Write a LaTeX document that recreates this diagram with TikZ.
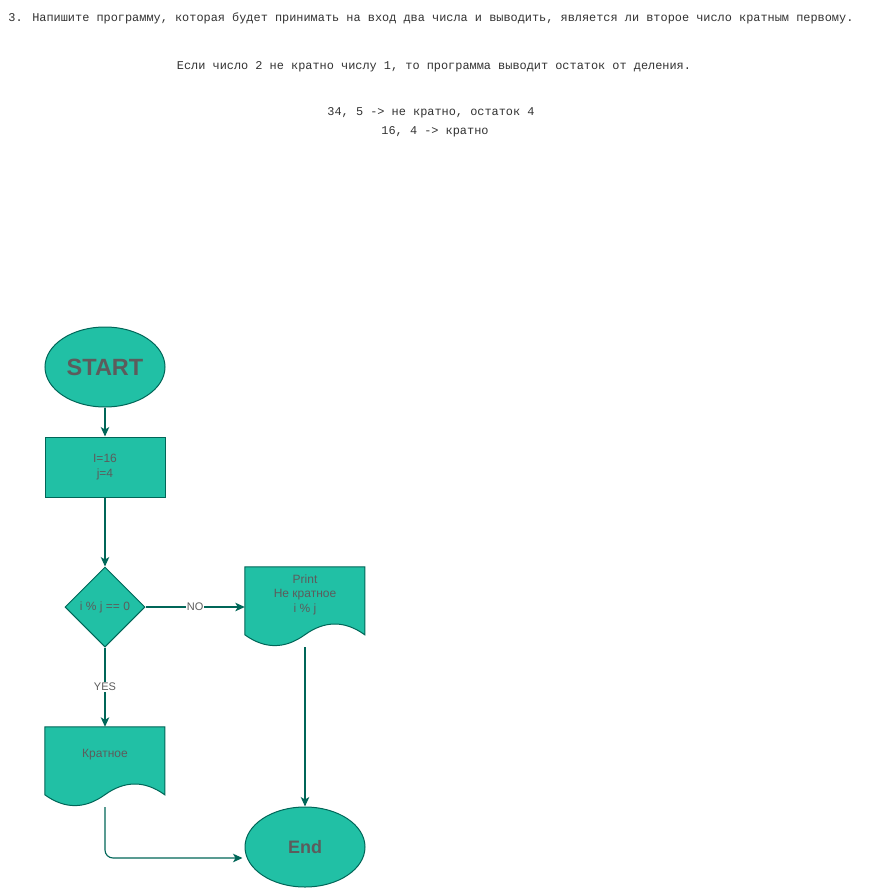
\documentclass[tikz,border=0pt]{standalone}
\usepackage{fontspec}
\setmainfont{Liberation Sans}
\newfontfamily\codefont{Liberation Mono}
\usetikzlibrary{shapes.geometric,arrows.meta,calc}

\definecolor{shapefill}{HTML}{21C0A5}
\definecolor{shapeline}{HTML}{006658}
\definecolor{labeltext}{HTML}{5C5C5C}
\definecolor{tasktext}{HTML}{333333}

\tikzset{
  flowshape/.style={fill=shapefill, draw=shapeline, line width=1pt, inner sep=0pt,
    text=labeltext, font=\fontsize{12}{14.4}\selectfont, align=center},
  terminal/.style={flowshape, ellipse, minimum width=120pt, minimum height=80pt},
  processbox/.style={flowshape, rectangle, minimum width=120pt, minimum height=60pt},
  decision/.style={flowshape, diamond, aspect=1, minimum width=80pt, minimum height=80pt},
  docframe/.style={rectangle, draw=none, inner sep=0pt, minimum width=120pt, minimum height=80pt},
  doctext/.style={inner sep=0pt, text=labeltext, font=\fontsize{12}{14.4}\selectfont, align=center},
  flowline/.style={draw=shapeline, line width=1.1pt,
    -{Stealth[length=9.5pt, width=8.5pt, inset=2.5pt]}},
  edgelabel/.style={fill=white, inner sep=1pt, text=labeltext, font=\fontsize{11}{13}\selectfont},
  tasklabel/.style={inner sep=0pt, text=tasktext, font=\codefont\fontsize{11.9}{14}\selectfont}
}

% document symbol: flat top, wavy bottom (w = 120, h = 80)
\newcommand{\docoutline}[1]{%
  \begin{scope}[shift={(#1.north west)}]
    \filldraw[fill=shapefill, draw=shapeline, line width=1pt]
      (0,0) -- (120,0) -- (120,68)
      .. controls (100,53.6) and (80,53.6) .. (60,68)
      .. controls (40,82.4) and (20,82.4) .. (0,68) -- cycle;
  \end{scope}}

\begin{document}
\begin{tikzpicture}[x=1pt, y=-1pt]
  \useasboundingbox[fill=white] (0,0) rectangle (870,888);

  % task statement
  \node[tasklabel] (task1) at (431,18) {3. Напишите программу, которая будет принимать на вход два числа и выводить, является ли второе число кратным первому.};
  \node[tasklabel] (task2) at (434,67) {Если число 2 не кратно числу 1, то программа выводит остаток от деления.};
  \node[tasklabel] (task3) at (431,113) {34, 5 -> не кратно, остаток 4};
  \node[tasklabel] (task4) at (435,132) {16, 4 -> кратно};

  % flowchart
  \node[terminal, font=\bfseries\fontsize{23.5}{27}\selectfont] (start) at (105,367) {START};
  \node[processbox] (init) at (105,467) {I=16\\j=4};
  \node[decision] (test) at (105,607) {i \% j == 0};

  \node[docframe] (notmult) at (305,607) {};
  \docoutline{notmult}
  \node[doctext] (notmulttxt) at ($(notmult.north)+(0,28)$) {Print\\Не кратное\\i \% j};

  \node[docframe] (mult) at (105,767) {};
  \docoutline{mult}
  \node[doctext] (multtxt) at ($(mult.north)+(0,28)$) {Кратное};

  \node[terminal, font=\bfseries\fontsize{18}{22}\selectfont] (finish) at (305,847) {End};
  \coordinate (finishin) at ($(finish.west)+(-2,11)$);

  % connectors
  \draw[flowline] (start.south) -- (init.north);
  \draw[flowline] (init.south) -- (test.north);
  \draw[flowline] (test.east) -- node[edgelabel] (nolabel) {NO} (notmult.west);
  \draw[flowline] (test.south) -- node[edgelabel] (yeslabel) {YES} (mult.north);
  \draw[flowline] (notmult.south) -- (finish.north);
  \draw[flowline, rounded corners=8pt] (mult.south) |- (finishin);
\end{tikzpicture}
\end{document}
